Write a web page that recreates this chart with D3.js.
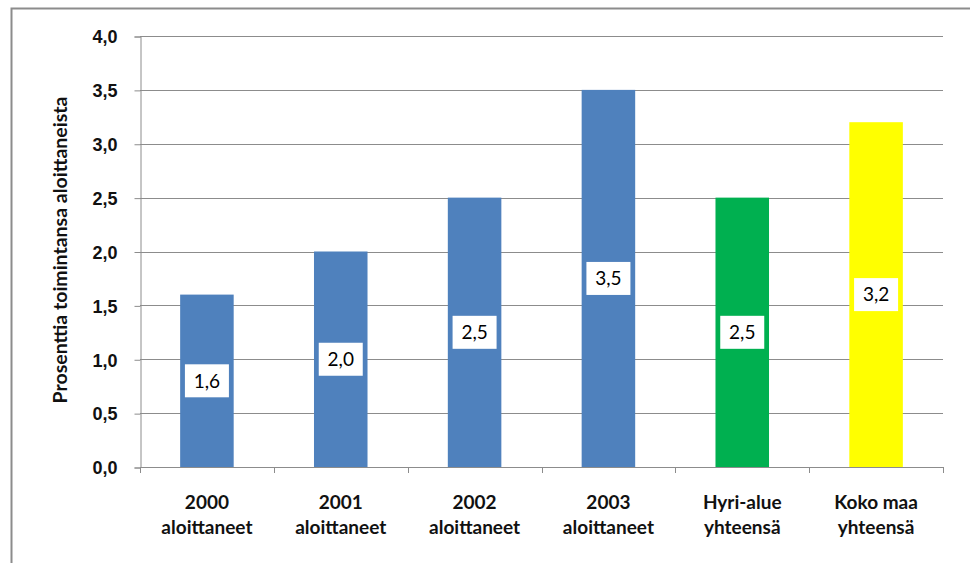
<!DOCTYPE html>
<html><head><meta charset="utf-8">
<script src="https://cdn.jsdelivr.net/npm/d3@7"></script>
<style>
html,body{margin:0;padding:0;background:#fff;}
svg{display:block;font-family:Lato,"Open Sans",sans-serif;}
</style></head>
<body>
<svg id="c" width="970" height="563"></svg>
<script>
const categories = [["2000","aloittaneet"],["2001","aloittaneet"],["2002","aloittaneet"],["2003","aloittaneet"],["Hyri-alue","yhteensä"],["Koko maa","yhteensä"]];
const values = [1.6, 2.0, 2.5, 3.5, 2.5, 3.2];
const valueLabels = ["1,6","2,0","2,5","3,5","2,5","3,2"];
const colors = ["#4F81BD","#4F81BD","#4F81BD","#4F81BD","#00B050","#FFFF00"];
const yTicks = [0,0.5,1,1.5,2,2.5,3,3.5,4];
const yTitle = "Prosenttia toimintansa aloittaneista";

const svg = d3.select("#c");
// outer border
svg.append("path").attr("d","M11.5,563 L11.5,8.5 L970,8.5").attr("fill","none").attr("stroke","#8c8c8c").attr("stroke-width",2);

const L=140, R=943, T=36, B=467;
const x = d3.scaleBand().domain(d3.range(categories.length)).range([L,R]).paddingInner(0.6).paddingOuter(0.3);
const y = d3.scaleLinear().domain([0,4]).range([B,T]);
const step = x.step();

// gridlines
svg.append("g").selectAll("line").data(yTicks.filter(d=>d>0)).join("line")
  .attr("x1",L).attr("x2",R).attr("y1",d=>Math.round(y(d))+0.5).attr("y2",d=>Math.round(y(d))+0.5)
  .attr("stroke","#8c8c8c").attr("stroke-width",1);

// y axis
const yAxis = d3.axisLeft(y).tickValues(yTicks).tickSize(6).tickPadding(17)
  .tickFormat(d=>d3.format(".1f")(d).replace(".",","));
const gy = svg.append("g").attr("transform",`translate(${L+0.5},0.5)`).call(yAxis);
gy.selectAll("path,line").attr("stroke","#8c8c8c");
gy.selectAll("text").attr("font-size",18).attr("font-weight","bold").attr("fill","#111").attr("dy","0.35em");

// bars
svg.append("g").selectAll("rect").data(values).join("rect")
  .attr("x",(d,i)=>x(i)).attr("width",x.bandwidth())
  .attr("y",d=>y(d)).attr("height",d=>B-y(d)).attr("fill",(d,i)=>colors[i]);

// x axis
svg.append("line").attr("x1",L).attr("x2",R).attr("y1",B+0.5).attr("y2",B+0.5).attr("stroke","#8c8c8c");
const bounds = d3.range(categories.length+1).map(i=>L+i*step);
svg.append("g").selectAll("line").data(bounds).join("line")
  .attr("x1",d=>Math.round(d)+0.5).attr("x2",d=>Math.round(d)+0.5).attr("y1",B).attr("y2",B+6)
  .attr("stroke","#8c8c8c");

// category labels
const cl = svg.append("g").selectAll("text").data(categories).join("text")
  .attr("x",(d,i)=>x(i)+x.bandwidth()/2).attr("y",509)
  .attr("text-anchor","middle").attr("font-size",19).attr("font-weight","bold").attr("fill","#111");
cl.selectAll("tspan").data(d=>d).join("tspan")
  .attr("x",function(){return this.parentNode.getAttribute("x");})
  .attr("dy",(d,i)=>i===0?0:25).text(d=>d);

// data labels
const dl = svg.append("g").selectAll("g").data(values).join("g")
  .attr("transform",(d,i)=>`translate(${x(i)+x.bandwidth()/2},${y(d/2)})`);
dl.append("rect").attr("x",-22).attr("y",-16.5).attr("width",44).attr("height",33).attr("fill","#fff");
dl.append("text").attr("text-anchor","middle").attr("dy","0.36em").attr("font-size",19)
  .attr("fill","#000").text((d,i)=>valueLabels[i]);

// y title
svg.append("text").attr("transform",`translate(67,250) rotate(-90)`)
  .attr("text-anchor","middle").attr("font-size",19.5).attr("font-weight","bold").attr("fill","#111").text(yTitle);
</script>
</body></html>
